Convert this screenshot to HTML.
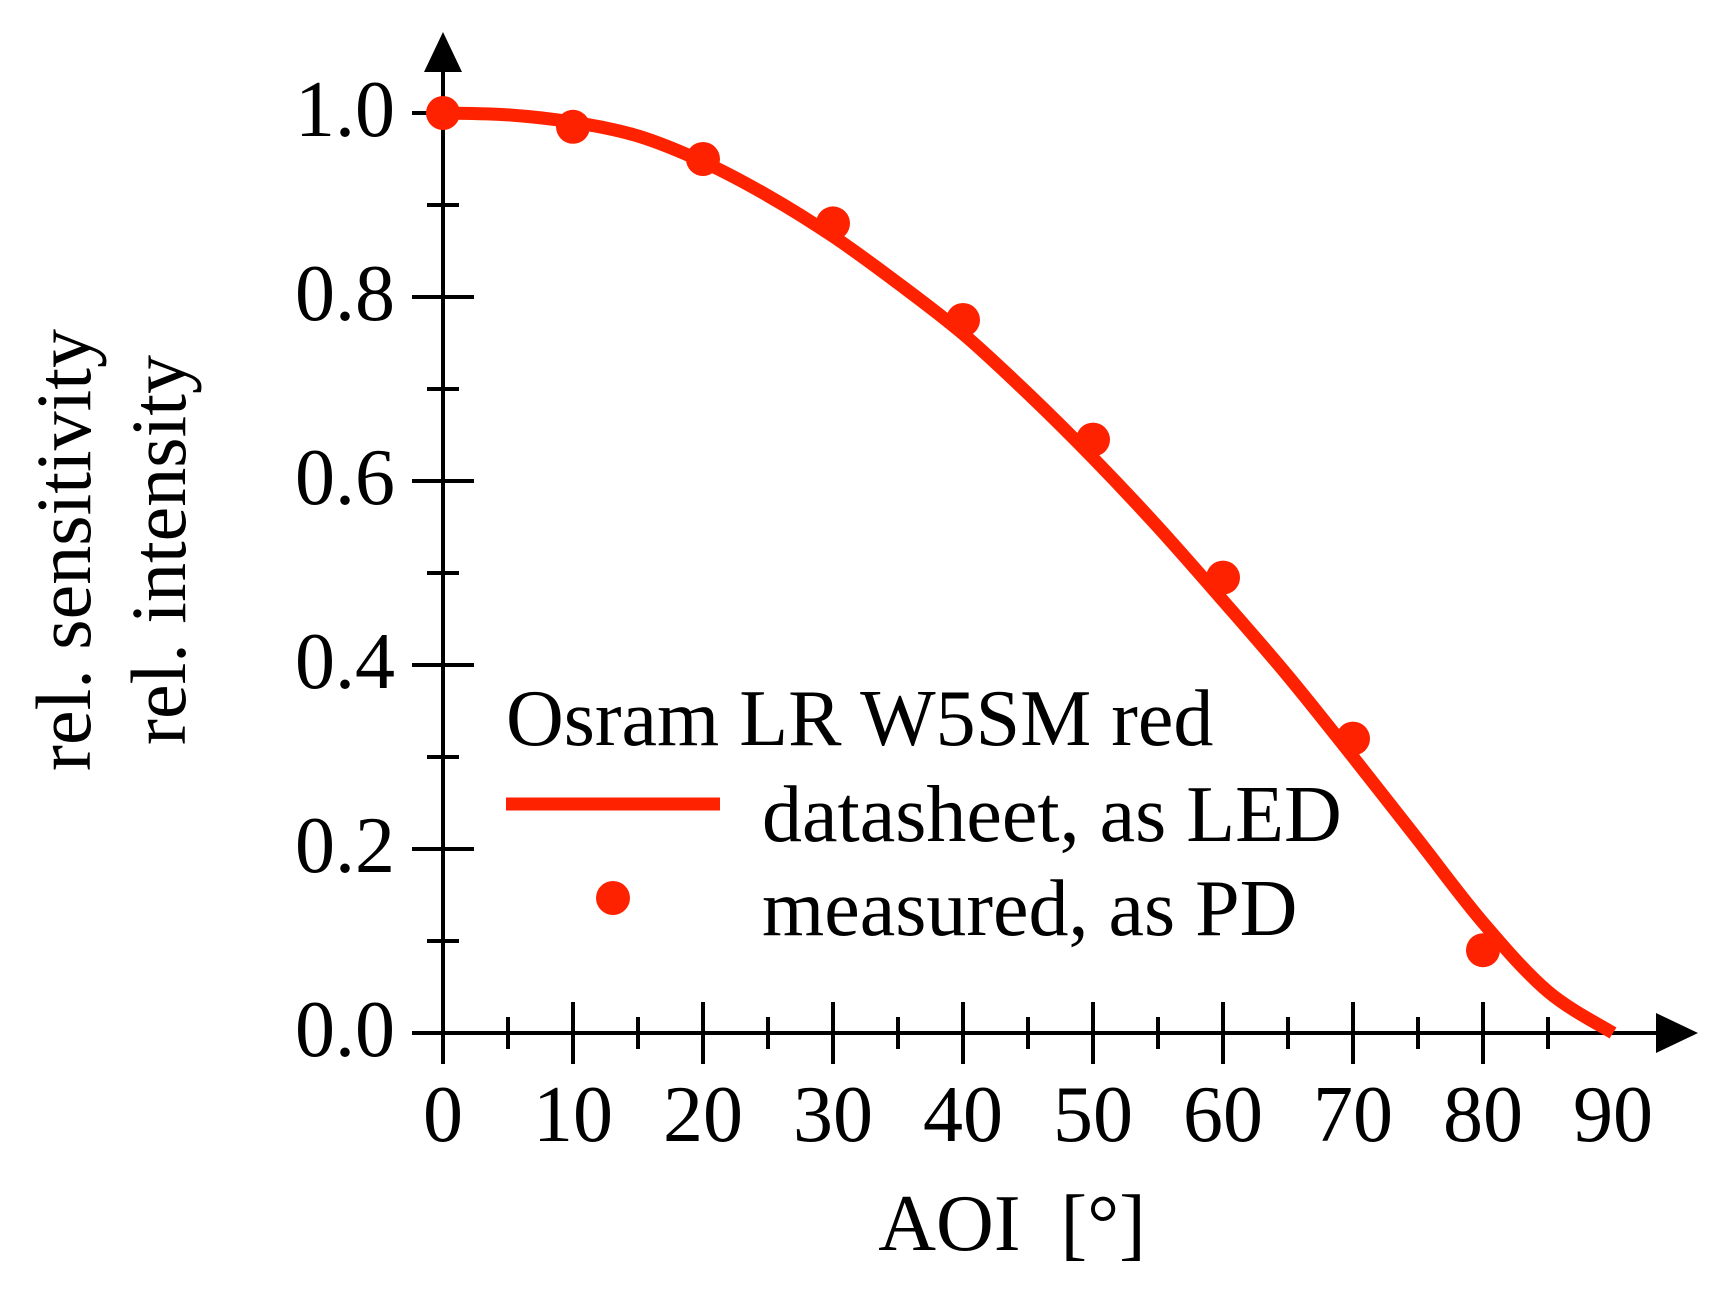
<!DOCTYPE html>
<html><head><meta charset="utf-8"><style>
html,body{margin:0;padding:0;background:#fff}
svg{display:block}
text{font-family:"Liberation Serif",serif;fill:#000}
</style></head><body>
<svg id="chart" width="1724" height="1293" viewBox="0 0 1724 1293" xmlns="http://www.w3.org/2000/svg">
<g id="axes"></g>
<g id="marks"></g>
<g>
<text x="506" y="745" font-size="80">Osram LR W5SM red</text>
<line x1="506" y1="804" x2="720" y2="804" stroke="#ff2200" stroke-width="13"/>
<text x="762" y="841" font-size="80">datasheet, as LED</text>
<circle cx="613" cy="898" r="17" fill="#ff2200"/>
<text x="762" y="935" font-size="80">measured, as PD</text>
</g>
<text transform="translate(90,550) rotate(-90)" text-anchor="middle" font-size="78">rel. sensitivity</text>
<text transform="translate(185,550) rotate(-90)" text-anchor="middle" font-size="78">rel. intensity</text>
<text x="1012" y="1250" text-anchor="middle" font-size="80">AOI&#160; [°]</text>
</svg>
<script>
const curveX=[0,5,10,15,20,25,30,35,40,45,50,55,60,65,70,75,80,85,90];
const curveY=[1,0.998,0.99,0.975,0.947,0.91,0.866,0.815,0.76,0.695,0.625,0.55,0.47,0.388,0.30,0.21,0.12,0.045,0.0];
const measX=[0,10,20,30,40,50,60,70,80];
const measY=[1.0,0.985,0.95,0.88,0.775,0.645,0.495,0.32,0.09];
const xTicks=[0,10,20,30,40,50,60,70,80,90];
const yTicks=["0.0","0.2","0.4","0.6","0.8","1.0"];
const NS="http://www.w3.org/2000/svg";
const X0=443,X1=1613,Y0=1033,Y1=113;
const sx=v=>X0+(v/90)*(X1-X0);
const sy=v=>Y0-v*(Y0-Y1);
function mk(tag,attrs,parent){const e=document.createElementNS(NS,tag);for(const k in attrs)e.setAttribute(k,attrs[k]);parent.appendChild(e);return e;}
const ax=document.getElementById('axes'),mk2=document.getElementById('marks');
let e;
e=mk('line',{x1:412,y1:Y0,x2:1660,y2:Y0,stroke:'#000','stroke-width':4},ax);


e=mk('polygon',{points:'1656,1013 1698,1033 1656,1053',fill:'#000'},ax);


e=mk('line',{x1:X0,y1:1063,x2:X0,y2:70,stroke:'#000','stroke-width':4},ax);


e=mk('polygon',{points:'424,72 443,32 462,72',fill:'#000'},ax);


for(let v=0;v<=85;v+=5){const maj=v%10===0;const x=sx(v);
 e=mk('line',{x1:x,y1:Y0-(maj?31:16),x2:x,y2:Y0+(maj?31:16),stroke:'#000','stroke-width':4},ax);
 
 }
xTicks.forEach(v=>{e=mk('text',{x:sx(v),y:1141,'text-anchor':'middle','font-size':80},ax);e.textContent=v;
 
 });
for(let i=0;i<=10;i++){const v=i/10;const maj=i%2===0;const y=sy(v);
 e=mk('line',{x1:X0-(maj?31:16),y1:y,x2:X0+(maj?31:16),y2:y,stroke:'#000','stroke-width':4},ax);
 
 }
yTicks.forEach(t=>{e=mk('text',{x:395,y:sy(parseFloat(t))+23,'text-anchor':'end','font-size':80},ax);e.textContent=t;
 
 });
const pts=curveX.map((x,i)=>[sx(x),sy(curveY[i])]);
let d='M'+pts[0][0]+','+pts[0][1];
for(let i=0;i<pts.length-1;i++){const p0=pts[i-1]||pts[i],p1=pts[i],p2=pts[i+1],p3=pts[i+2]||p2;
 d+=` C${p1[0]+(p2[0]-p0[0])/6},${p1[1]+(p2[1]-p0[1])/6} ${p2[0]-(p3[0]-p1[0])/6},${p2[1]-(p3[1]-p1[1])/6} ${p2[0]},${p2[1]}`;}
e=mk('path',{d:d,fill:'none',stroke:'#ff2200','stroke-width':13,'stroke-linejoin':'round'},mk2);


measX.forEach((x,i)=>{e=mk('circle',{cx:sx(x),cy:sy(measY[i]),r:17,fill:'#ff2200'},mk2);
 
 });
</script>
</body></html>
